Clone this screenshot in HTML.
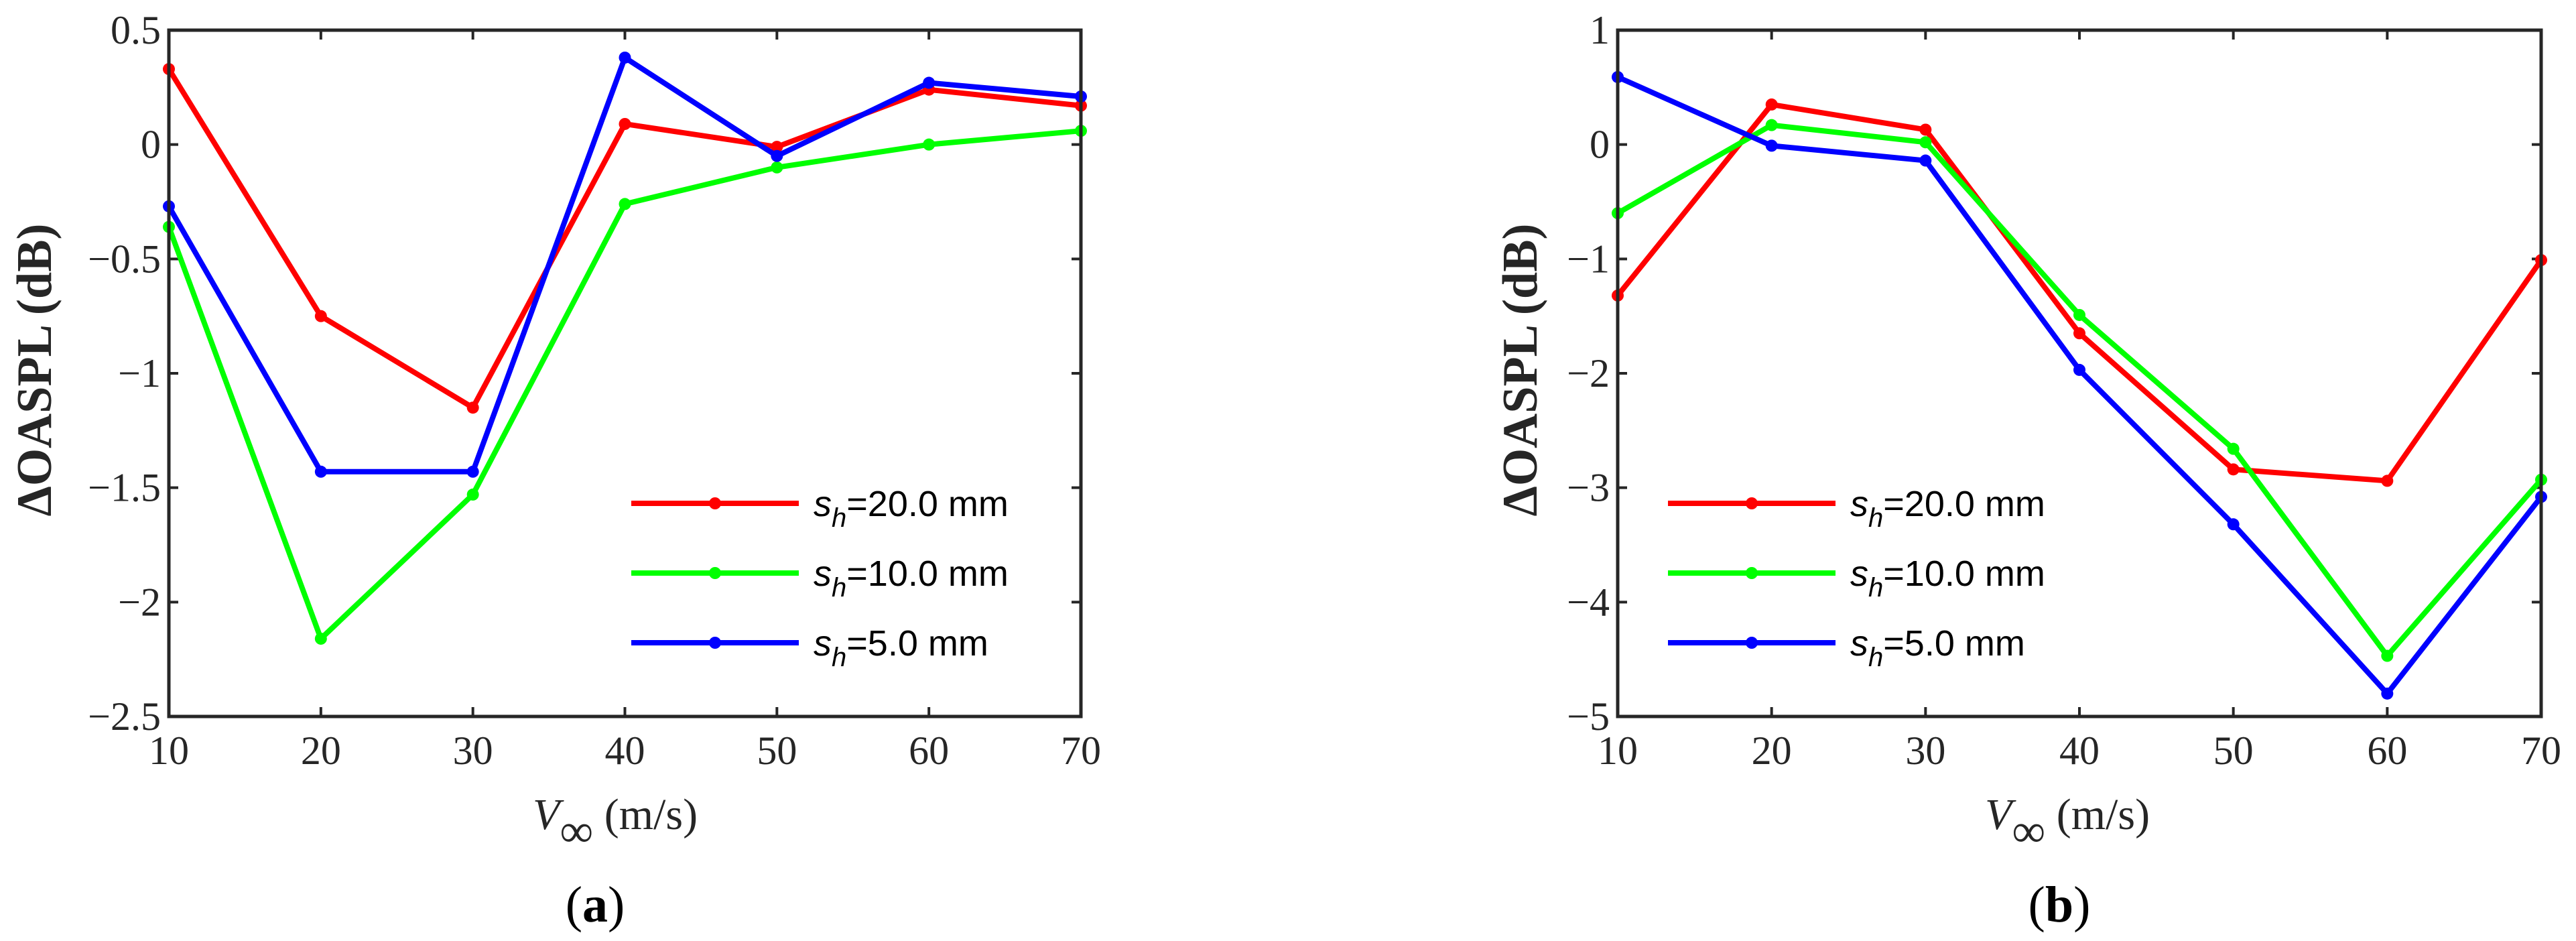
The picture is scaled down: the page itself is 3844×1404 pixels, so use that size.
<!DOCTYPE html>
<html><head><meta charset="utf-8"><style>
html,body{margin:0;padding:0;background:#fff;}
svg{display:block;}
.tk{font-family:"Liberation Serif",serif;font-size:60px;fill:#262626;}
.lg{font-family:"Liberation Sans",sans-serif;font-size:54px;fill:#000;}
</style></head><body>
<svg id="fig" width="3844" height="1404" viewBox="0 0 3844 1404" xmlns="http://www.w3.org/2000/svg"></svg>
<script>
const xCats=[10,20,30,40,50,60,70];
const aRed=[0.33,-0.75,-1.15,0.09,-0.01,0.24,0.17];
const aGreen=[-0.36,-2.16,-1.53,-0.26,-0.10,0.00,0.06];
const aBlue=[-0.27,-1.43,-1.43,0.38,-0.05,0.27,0.21];
const bRed=[-1.32,0.35,0.13,-1.65,-2.84,-2.94,-1.01];
const bGreen=[-0.60,0.17,0.02,-1.49,-2.66,-4.47,-2.93];
const bBlue=[0.59,-0.01,-0.14,-1.97,-3.32,-4.80,-3.08];
const aYTicks=[0.5,0,-0.5,-1,-1.5,-2,-2.5];
const aYLabels=["0.5","0","\u22120.5","\u22121","\u22121.5","\u22122","\u22122.5"];
const bYTicks=[1,0,-1,-2,-3,-4,-5];
const bYLabels=["1","0","\u22121","\u22122","\u22123","\u22124","\u22125"];
const seriesNames=["20.0","10.0","5.0"];
const colors=["#ff0000","#00ff00","#0000ff"];

const NS="http://www.w3.org/2000/svg";
const svg=document.getElementById('fig');
function mk(tag,attrs,parent){const e=document.createElementNS(NS,tag);for(const k in attrs)e.setAttribute(k,attrs[k]);(parent||svg).appendChild(e);return e;}

function panel(p){
  const g=mk('g',{});
  
  
  const L=p.L,R=p.R,T=45,B=1069;
  const xs=v=>L+(v-10)/60*(R-L);
  const ys=v=>T+(p.ymax-v)/(p.ymax-p.ymin)*(B-T);
  p.yt.forEach((v,i)=>{
    const y=ys(v);
    const t=mk('path',{d:`M${L} ${y}h14M${R} ${y}h-14`,stroke:'#262626','stroke-width':4},g);
    
    
    const tx=mk('text',{x:L-12,y:y+20,'text-anchor':'end',class:'tk'},g);
    tx.textContent=p.yl[i];
    
    
  });
  xCats.forEach(v=>{
    const x=xs(v);
    const t=mk('path',{d:`M${x} ${B}v-14M${x} ${T}v14`,stroke:'#262626','stroke-width':4},g);
    
    
    const tx=mk('text',{x:x,y:1140,'text-anchor':'middle',class:'tk'},g);
    tx.textContent=String(v);
    
    
  });
  p.series.forEach((s,si)=>{
    const pts=s.map((v,i)=>xs(xCats[i])+','+ys(v)).join(' ');
    const pl=mk('polyline',{points:pts,fill:'none',stroke:colors[si],'stroke-width':8,'stroke-linejoin':'round'},g);
    
    
    s.forEach((v,i)=>{
      const c=mk('circle',{cx:xs(xCats[i]),cy:ys(v),r:9,fill:colors[si]},g);
      
      
    });
  });
  const fr=mk('rect',{x:L,y:T,width:R-L,height:B-T,fill:'none',stroke:'#262626','stroke-width':5},g);
  
  
  const lg=mk('g',{},g);
  
  
  const rows=[751,855,959];
  seriesNames.forEach((n,i)=>{
    const y=rows[i];
    const ln=mk('line',{x1:p.lx,x2:p.lx+250,y1:y,y2:y,stroke:colors[i],'stroke-width':8},lg);
    
    
    mk('circle',{cx:p.lx+125,cy:y,r:9,fill:colors[i]},lg);
    const t=mk('text',{x:p.lx+272,y:y+19,class:'lg'},lg);
    t.innerHTML=`<tspan font-style="italic">s</tspan><tspan font-style="italic" font-size="40" dy="16">h</tspan><tspan dy="-16">=${n} mm</tspan>`;
    
    
  });
  const yl=mk('text',{x:0,y:0,transform:`translate(${p.ylx},${(T+B)/2-5}) rotate(-90)`,'text-anchor':'middle','font-family':'Liberation Serif, serif','font-weight':'bold','font-size':'74',fill:'#262626',textLength:'437',lengthAdjust:'spacingAndGlyphs'},g);
  yl.textContent='\u0394OASPL (dB)';
  
  
  const xl=mk('text',{x:p.xlx,y:1237,'font-family':'Liberation Serif, serif','font-size':'66',fill:'#262626'},g);
  xl.innerHTML=`<tspan font-style="italic">V</tspan><tspan font-size="70" dy="26">\u221e</tspan><tspan dy="-26"> (m/s)</tspan>`;
  
  
  const cap=mk('text',{x:p.cx,y:1375,'text-anchor':'middle','font-family':'Liberation Serif, serif','font-size':'76',fill:'#000'},g);
  cap.innerHTML=`(<tspan font-weight="bold">${p.cap}</tspan>)`;
  
  
}
panel({name:'panel-a',L:252,R:1613,ymax:0.5,ymin:-2.5,yt:aYTicks,yl:aYLabels,series:[aRed,aGreen,aBlue],lx:942,ylx:76,xlx:795,cx:888,cap:'a'});
panel({name:'panel-b',L:2414,R:3792,ymax:1,ymin:-5,yt:bYTicks,yl:bYLabels,series:[bRed,bGreen,bBlue],lx:2489,ylx:2293,xlx:2962,cx:3073,cap:'b'});
</script>
</body></html>
